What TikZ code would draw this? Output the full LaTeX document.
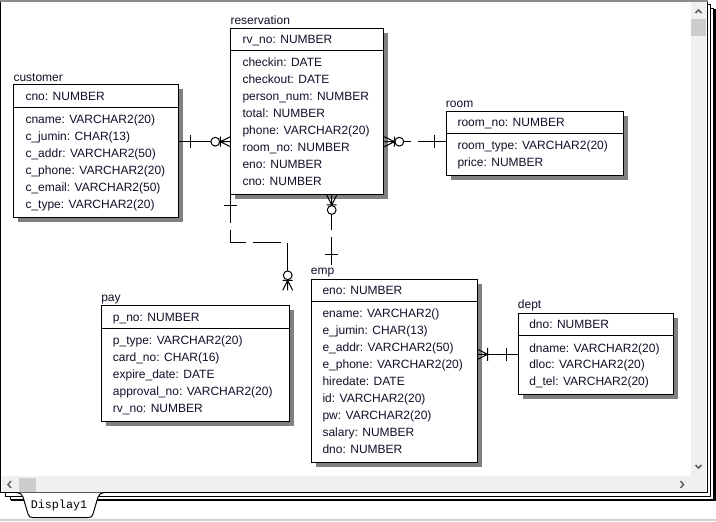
\documentclass[tikz,border=0pt]{standalone}
\usepackage{fontspec}
\setmainfont{Liberation Sans}
\newfontfamily\tabmono{Liberation Mono}
\usetikzlibrary{shadows,calc}
\definecolor{sbar}{HTML}{F0F0F0}
\definecolor{thumbc}{HTML}{CDCDCD}
\definecolor{chevc}{HTML}{606060}
\definecolor{txtc}{HTML}{101028}
\newcommand\entfont{\fontsize{9}{10}\selectfont}
\begin{document}
\begin{tikzpicture}[x=0.75pt,y=-0.75pt,
  ent/.style={draw, fill=white, line width=0.75pt, anchor=north west, inner sep=0pt,
    drop shadow={shadow xshift=3.5pt, shadow yshift=-3.5pt, fill=black!50, opacity=1}},
  attr/.style={anchor=base west, inner sep=0pt, font=\entfont, text=txtc},
  lbl/.style={anchor=base west, inner sep=0pt, font=\entfont, text=txtc},
  sepline/.style={line width=0.75pt},
  rel/.style={line width=0.75pt},
  nonid/.style={line width=0.75pt, dash pattern=on 21pt off 5.25pt},
  chev/.style={draw=chevc, line width=1.1pt},
  zmany/.pic={\draw[line width=0.75pt] (0,-5) -- (-10,0) -- (0,5) (0,0) -- (-10,0) (-10,-5) -- (-10,5);
              \draw[line width=0.75pt] (-15,0) circle[radius=3.3pt];},
  onebar/.pic={\draw[line width=0.75pt] (-11,-6.5) -- (-11,6.5);},
  onemany/.pic={\draw[line width=0.75pt] (0,-5) -- (-10,0) -- (0,5) (0,0) -- (-10,0) (-10,-6.5) -- (-10,6.5);}
]
\useasboundingbox (0,0) rectangle (716,521);
\fill[white] (0,0) rectangle (716,521);
\draw[black!18, line width=1.5pt] (0,520) -- (716,520);
% stacked windows
\draw[fill=white, line width=0.75pt] (10,8) rectangle (713.5,499);
\draw[line width=1.5pt] (715,9) -- (715,500.2) -- (11,500.2);
\draw[fill=white, line width=0.75pt] (5,4) rectangle (710.5,496);
\fill[white] (0,0) rectangle (707.7,492.5);
\draw[line width=0.75pt] (0.5,1) -- (0.5,492.5) -- (707.7,492.5) -- (707.7,1);
\fill[black!45] (0,0) rectangle (707.7,2);
% scrollbars
\fill[sbar] (691,2) rectangle (706,476);
\fill[thumbc] (691,19) rectangle (706,35.7);
\fill[sbar] (2,476) rectangle (706,492);
\fill[thumbc] (19,477.5) rectangle (36,491.7);
\draw[chev] (695.5,13) -- (698.5,10) -- (701.5,13);
\draw[chev] (695.5,465) -- (698.5,468) -- (701.5,465);
\draw[chev] (11,481) -- (8,484.5) -- (11,488);
\draw[chev] (680.5,481) -- (683.5,484.5) -- (680.5,488);
% tab
\draw[line width=0.75pt, fill=white] (16,492.5) .. controls (20,493) and (22,494) .. (23,497)
  -- (28,514) .. controls (29,517) and (30,517.5) .. (33,517.5) -- (88,517.5)
  .. controls (91,517.5) and (92,517) .. (93,514) -- (98,497)
  .. controls (99,494) and (101,493) .. (105,492.5);
\node[font=\tabmono\fontsize{8.8}{10}\selectfont, inner sep=0pt] (tab) at (59,505.5) {Display1};

% ---------- entities ----------
% customer
\node[ent, minimum width=123.75pt, minimum height=99.75pt] (customer) at (13.3,84.3) {};
\node[lbl] (customer-lbl) at (13.3,81.5) {customer};
\draw[sepline] (customer.west |- 0,107.3) -- (customer.east |- 0,107.3);
\node[attr] (customer-pk) at (25.3,100.5) {cno: NUMBER};
\foreach \t [count=\i from 0] in {cname: VARCHAR2(20), c\_jumin: CHAR(13), c\_addr: VARCHAR2(50), c\_phone: VARCHAR2(20), c\_email: VARCHAR2(50), c\_type: VARCHAR2(20)}
  \node[attr] (customer-a\i) at ({25.3},{123+17*\i}) {\t};

% reservation
\node[ent, minimum width=114.75pt, minimum height=124.7pt] (reservation) at (230.3,27.7) {};
\node[lbl] (reservation-lbl) at (230.3,24) {reservation};
\draw[sepline] (reservation.west |- 0,50.7) -- (reservation.east |- 0,50.7);
\node[attr] (reservation-pk) at (242.3,43.5) {rv\_no: NUMBER};
\foreach \t [count=\i from 0] in {checkin: DATE, checkout: DATE, person\_num: NUMBER, total: NUMBER, phone: VARCHAR2(20), room\_no: NUMBER, eno: NUMBER, cno: NUMBER}
  \node[attr] (reservation-a\i) at ({242.3},{66.5+17*\i}) {\t};

% room
\node[ent, minimum width=133.2pt, minimum height=48.45pt] (room) at (445.7,110.7) {};
\node[lbl] (room-lbl) at (445.7,107) {room};
\draw[sepline] (room.west |- 0,133) -- (room.east |- 0,133);
\node[attr] (room-pk) at (457.3,126) {room\_no: NUMBER};
\foreach \t [count=\i from 0] in {room\_type: VARCHAR2(20), price: NUMBER}
  \node[attr] (room-a\i) at ({457.3},{149.5+16.5*\i}) {\t};

% pay
\node[ent, minimum width=140.8pt, minimum height=86.8pt] (pay) at (101,305.3) {};
\node[lbl] (pay-lbl) at (101,301.5) {pay};
\draw[sepline] (pay.west |- 0,328.3) -- (pay.east |- 0,328.3);
\node[attr] (pay-pk) at (112.7,321) {p\_no: NUMBER};
\foreach \t [count=\i from 0] in {p\_type: VARCHAR2(20), card\_no: CHAR(16), expire\_date: DATE, approval\_no: VARCHAR2(20), rv\_no: NUMBER}
  \node[attr] (pay-a\i) at ({112.7},{344.5+17*\i}) {\t};

% emp
\node[ent, minimum width=124.5pt, minimum height=137.25pt] (emp) at (310.7,279) {};
\node[lbl] (emp-lbl) at (310.7,274.5) {emp};
\draw[sepline] (emp.west |- 0,301.3) -- (emp.east |- 0,301.3);
\node[attr] (emp-pk) at (322.3,294.5) {eno: NUMBER};
\foreach \t [count=\i from 0] in {ename: VARCHAR2(), e\_jumin: CHAR(13), e\_addr: VARCHAR2(50), e\_phone: VARCHAR2(20), hiredate: DATE, id: VARCHAR2(20), pw: VARCHAR2(20), salary: NUMBER, dno: NUMBER}
  \node[attr] (emp-a\i) at ({322.3},{317.5+17*\i}) {\t};

% dept
\node[ent, minimum width=116.7pt, minimum height=61pt] (dept) at (517.7,312.7) {};
\node[lbl] (dept-lbl) at (517.7,308) {dept};
\draw[sepline] (dept.west |- 0,335.3) -- (dept.east |- 0,335.3);
\node[attr] (dept-pk) at (529,328) {dno: NUMBER};
\foreach \t [count=\i from 0] in {dname: VARCHAR2(20), dloc: VARCHAR2(20), d\_tel: VARCHAR2(20)}
  \node[attr] (dept-a\i) at ({529},{352+16.5*\i}) {\t};

% ---------- relationships ----------
\coordinate (yCR) at (0,141.7);
\coordinate (xRE) at (331.7,0);
\coordinate (yED) at (0,354.3);
\coordinate (xPay) at (287.7,0);
\coordinate (yPayH) at (0,242.3);
\coordinate (empEnd) at ($(xRE |- emp.north)+(0,-14)$);
\coordinate (payEnd) at ($(xPay |- pay.north)+(0,-15)$);

% customer - reservation
\draw[rel] (customer.east |- yCR) -- ($(reservation.west |- yCR)+(-19.5,0)$);
\pic at (customer.east |- yCR) [rotate=180] {onebar};
\pic at (reservation.west |- yCR) {zmany};

% reservation - room
\draw[nonid] (room.west |- yCR) -- ($(reservation.east |- yCR)+(19.5,0)$);
\pic at (room.west |- yCR) {onebar};
\pic at (reservation.east |- yCR) [rotate=180] {zmany};

% reservation - emp
\draw[nonid] (empEnd) -- ($(xRE |- reservation.south)+(0,19.5)$);
\pic at (empEnd) [rotate=-90] {onebar};
\pic at (xRE |- reservation.south) [rotate=90] {zmany};

% reservation - pay
\draw[nonid] (reservation.south west) -- (reservation.south west |- yPayH) -- (xPay |- yPayH) -- ($(payEnd)+(0,-19.5)$);
\pic at (reservation.south west) [rotate=90] {onebar};
\pic at (payEnd) [rotate=-90] {zmany};

% emp - dept
\draw[rel] ($(emp.east |- yED)+(10,0)$) -- (dept.west |- yED);
\pic at (emp.east |- yED) [rotate=180] {onemany};
\pic at (dept.west |- yED) {onebar};
\end{tikzpicture}
\end{document}
